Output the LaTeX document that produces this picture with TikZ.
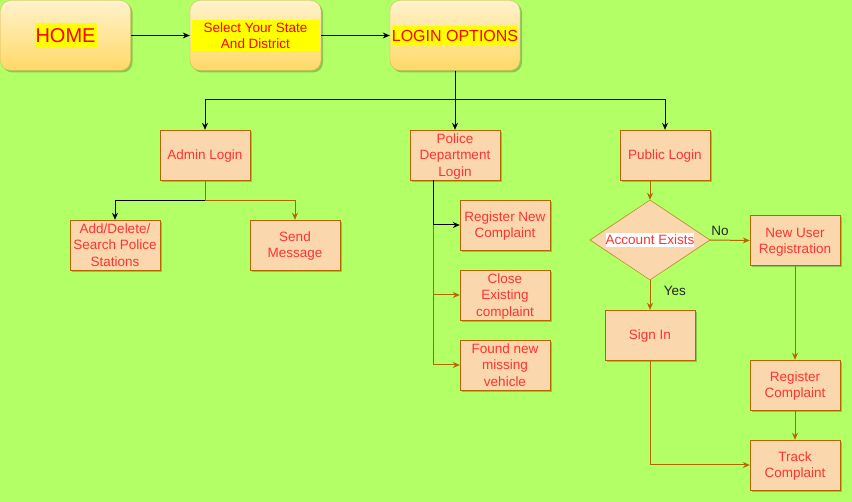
\documentclass[tikz,border=0pt]{standalone}
\usepackage{fontspec}
\setmainfont{Liberation Sans}
\usepackage{xcolor}
\usetikzlibrary{
  arrows.meta,
  positioning,
  shapes.geometric,
  shadows,
}
\definecolor{pagegreen}{HTML}{B3FF66}
\definecolor{cream}{HTML}{FFF2CC}
\definecolor{gold}{HTML}{FFD966}
\definecolor{goldline}{HTML}{D6B656}
\definecolor{peach}{HTML}{FAD7AC}
\definecolor{rust}{HTML}{B46504}
\definecolor{redink}{HTML}{FF0000}
\definecolor{pinkred}{HTML}{FF3333}
\definecolor{marker}{HTML}{FFFF00}
\tikzset{
  >={Stealth[length=7pt,width=6pt]},
  font=\fontsize{13.5}{16.2}\selectfont,
  softshadow/.style={drop shadow={shadow xshift=2pt, shadow yshift=-2pt, opacity=0.22, fill=black}},
  topbox/.style={
    rounded corners=10pt,
    draw=goldline,
    top color=cream,
    bottom color=gold,
    minimum width=130pt,
    minimum height=70pt,
    inner sep=0pt,
    text=redink,
    align=center,
    softshadow,
  },
  pbox/.style={
    draw=rust,
    fill=peach,
    minimum width=90pt,
    minimum height=50pt,
    inner sep=1pt,
    text depth=-2pt,
    text=pinkred,
    align=center,
    softshadow,
  },
  query/.style={
    shape=diamond,
    aspect=1.5,
    draw=rust,
    fill=peach,
    minimum width=120pt,
    minimum height=80pt,
    inner sep=0pt,
    text=pinkred,
  },
  blk/.style={->, draw=black, line width=1pt},
  brn/.style={->, draw=rust, line width=1pt},
  tag/.style={text=black!85},
}

\begin{document}
\begin{tikzpicture}[x=1pt,y=-1pt]
  \fill[pagegreen] (0,0) rectangle (852,502);
  \useasboundingbox (0,0) rectangle (852,502);

  % top row
  \node[topbox] (home) at (65.5,35.5)
    {\fontsize{20}{23}\selectfont\fboxsep=1pt\colorbox{marker}{\rule[-4.3pt]{0pt}{22pt}HOME}};
  \node[topbox, minimum width=131pt] (state) at (255.5,35.5)
    {\fboxsep=2pt\colorbox{marker}{\parbox{124pt}{\centering Select Your State\\And District}}};
  \node[topbox] (login) at (455,35.5)
    {\fontsize{16}{19}\selectfont\fboxsep=0pt\colorbox{marker}{\rule[-3.8pt]{0pt}{19pt}LOGIN OPTIONS}};

  % second row
  \node[pbox] (admin) at (205,155) {Admin Login};
  \node[pbox] (police) at (455,155) {Police\\Department\\Login};
  \node[pbox] (public) at (665,155) {Public Login};

  % admin branch
  \node[pbox] (addel) at (115,245) {Add/Delete/\\Search Police\\Stations};
  \node[pbox] (sendmsg) at (295,245) {Send\\Message};

  % police branch
  \foreach \name/\y/\txt in {
    regnew/225/{Register New\\Complaint},
    closec/295/{Close\\Existing\\complaint},
    found/365/{Found new\\missing\\vehicle}} {
    \node[pbox] (\name) at (505,\y) {\txt};
  }

  % public branch
  \node[query] (acct) at (650,240)
    {\fboxsep=0pt\colorbox{white}{\rule[-2.3pt]{0pt}{13.9pt}Account Exists}};
  \node[pbox] (newuser) at (795,240.5) {New User\\Registration};
  \node[pbox] (signin) at (650,335) {Sign In};
  \node[pbox] (regcomp) at (795,385) {Register\\Complaint};
  \node[pbox] (track) at (795,465) {Track\\Complaint};

  % connectors
  \draw[blk] (home) -- (state);
  \draw[blk] (state) -- (login);
  \draw[blk] (login.south) -- ++(0,29) -| (admin.north);
  \draw[blk] (login.south) -- ++(0,29) -| (public.north);
  \draw[blk] (login.south) -- (police.north);

  \draw[blk] (admin.south) -- ++(0,20) -| (addel.north);
  \draw[brn] (admin.south) -- ++(0,20) -| (sendmsg.north);

  \coordinate (polout) at ([xshift=-22pt]police.south);
  \foreach \name/\sty in {found/brn, closec/brn, regnew/blk} {
    \draw[\sty] (polout) |- (\name.west);
  }

  \draw[brn] ([xshift=-15pt]public.south) -- (acct.north);
  \draw[brn] (acct.east) -- node[tag, pos=0.25, above=1pt] {No} (newuser.west);
  \draw[brn] (acct.south) -- node[tag, pos=0.35, right=10pt] {Yes} (signin.north);
  \draw[brn] (newuser) -- (regcomp);
  \draw[brn] (regcomp) -- (track);
  \draw[brn] (signin.south) |- (track.west);
\end{tikzpicture}
\end{document}
